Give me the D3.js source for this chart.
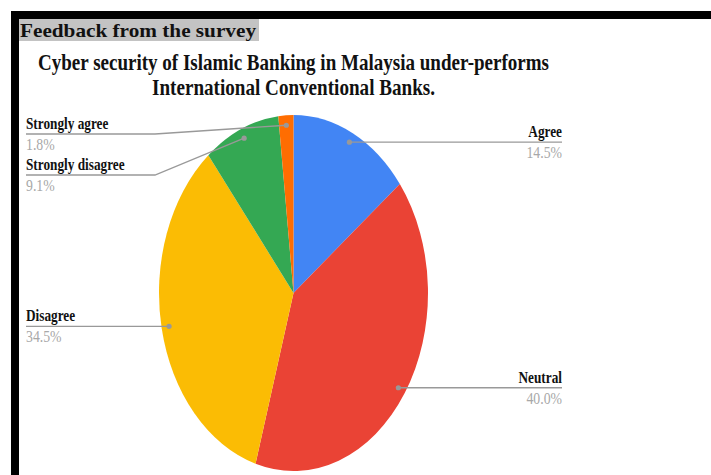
<!DOCTYPE html>
<html>
<head>
<meta charset="utf-8">
<script src="https://cdn.jsdelivr.net/npm/d3@7"></script>
<style>
  body { margin: 0; background: #fff; }
  text { font-family: "Liberation Serif", "Times New Roman", serif; }
</style>
</head>
<body>
<script>
var w = 711;
var h = 475;

// Data
var categories = ["Agree", "Neutral", "Disagree", "Strongly disagree", "Strongly agree"];
var shares = [14.5, 40.0, 34.5, 9.1, 1.8];
var colors = ["#4285f4", "#ea4335", "#fbbc04", "#34a853", "#ff6d01"];
var header = "Feedback from the survey";
var titleLines = [
  "Cyber security of Islamic Banking in Malaysia under-performs",
  "International Conventional Banks."
];

var data = categories.map(function (c, i) {
  return { name: c, value: shares[i], color: colors[i] };
});

var cx = 293.5, cy = 293;
var rx = 134.5, ry = 178;
var sy = ry / rx;

var svg = d3.select("body").append("svg").attr("width", w).attr("height", h);

// squeeze text horizontally, the source image is narrow
function condense(sel, factor) {
  sel.each(function () {
    var len = this.getComputedTextLength();
    d3.select(this).attr("textLength", len * factor).attr("lengthAdjust", "spacingAndGlyphs");
  });
}

// frame
svg.append("rect").attr("x", 11).attr("y", 11).attr("width", w - 11).attr("height", 8).attr("fill", "#000");
svg.append("rect").attr("x", 11).attr("y", 11).attr("width", 8).attr("height", h - 11).attr("fill", "#000");

// header
svg.append("rect").attr("x", 19).attr("y", 19).attr("width", 240).attr("height", 22).attr("fill", "#c3c3c3");
svg.append("text")
  .attr("x", 20).attr("y", 37)
  .attr("font-size", 19).attr("font-weight", "bold").attr("fill", "#111")
  .attr("textLength", 236).attr("lengthAdjust", "spacingAndGlyphs")
  .text(header);

// title
var titleWidths = [511, 283];
svg.selectAll(".title")
  .data(titleLines)
  .enter()
  .append("text")
  .attr("class", "title")
  .attr("x", cx)
  .attr("y", function (d, i) { return 70 + i * 25; })
  .attr("text-anchor", "middle")
  .attr("font-size", 24)
  .attr("font-weight", "bold")
  .attr("fill", "#111")
  .attr("textLength", function (d, i) { return titleWidths[i]; })
  .attr("lengthAdjust", "spacingAndGlyphs")
  .text(function (d) { return d; });

// pie
var pie = d3.pie().sort(null).value(function (d) { return d.value; });
var arcs = pie(data);
var arc = d3.arc().innerRadius(0).outerRadius(rx);

svg.append("g")
  .attr("transform", "translate(" + cx + "," + cy + ") scale(1," + sy + ")")
  .selectAll("path")
  .data(arcs)
  .enter()
  .append("path")
  .attr("d", arc)
  .attr("fill", function (d) { return d.data.color; });

// label layout
var dotR = rx * 0.944;
arcs.forEach(function (d) {
  var a = (d.startAngle + d.endAngle) / 2;
  d.dotX = cx + dotR * Math.sin(a);
  d.dotY = cy - dotR * Math.cos(a) * sy;
  d.side = a < Math.PI ? "right" : "left";
  d.lineY = d.dotY;
});

var minY = 134, gap = 41;
["left", "right"].forEach(function (side) {
  var list = arcs.filter(function (d) { return d.side === side; })
    .sort(function (a, b) { return a.dotY - b.dotY; });
  var prev = minY - gap;
  list.forEach(function (d) {
    d.lineY = Math.max(d.lineY, prev + gap);
    prev = d.lineY;
  });
});

var leftX = 26, rightX = 562, leftKink = 155, rightKink = 432;

var labels = svg.append("g").selectAll("g")
  .data(arcs)
  .enter()
  .append("g");

labels.append("polyline")
  .attr("points", function (d) {
    var kx = d.side === "left" ? leftKink : rightKink;
    var ex = d.side === "left" ? leftX : rightX;
    return [[d.dotX, d.dotY], [kx, d.lineY], [ex, d.lineY]].join(" ");
  })
  .attr("fill", "none")
  .attr("stroke", "#999")
  .attr("stroke-width", 1.3);

labels.append("circle")
  .attr("cx", function (d) { return d.dotX; })
  .attr("cy", function (d) { return d.dotY; })
  .attr("r", 2.6)
  .attr("fill", "#999");

var names = labels.append("text")
  .attr("x", function (d) { return d.side === "left" ? leftX : rightX; })
  .attr("y", function (d) { return d.lineY - 5; })
  .attr("text-anchor", function (d) { return d.side === "left" ? "start" : "end"; })
  .attr("font-size", 17)
  .attr("font-weight", "bold")
  .attr("fill", "#111")
  .text(function (d) { return d.data.name; });
condense(names, 0.78);

var pcts = labels.append("text")
  .attr("x", function (d) { return d.side === "left" ? leftX : rightX; })
  .attr("y", function (d) { return d.lineY + 16; })
  .attr("text-anchor", function (d) { return d.side === "left" ? "start" : "end"; })
  .attr("font-size", 16)
  .attr("fill", "#a8a8a8")
  .text(function (d) { return d.data.value.toFixed(1) + "%"; });
condense(pcts, 0.86);
</script>
</body>
</html>
